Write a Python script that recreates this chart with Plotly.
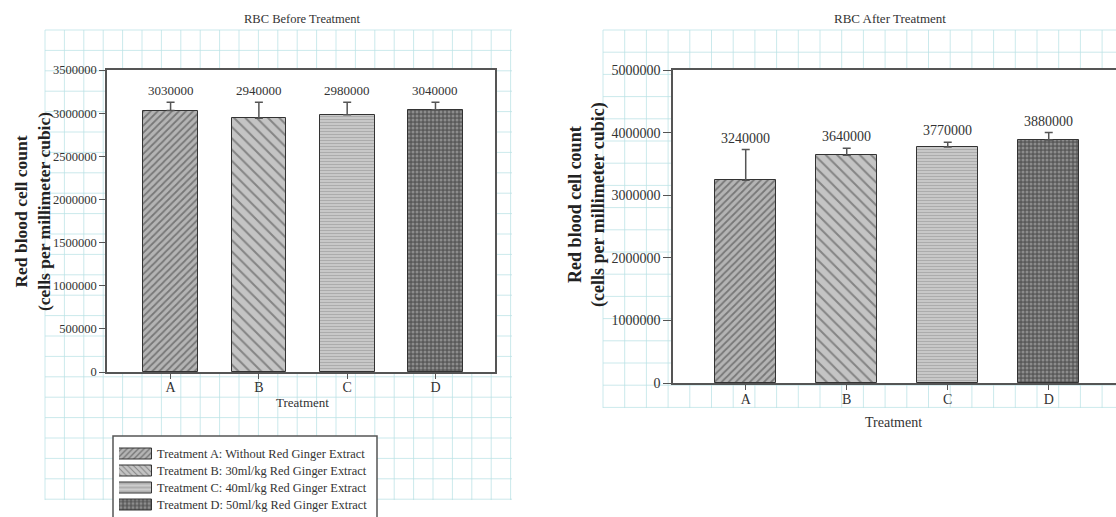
import plotly.graph_objects as go

# ---- data ----
categories = ["A", "B", "C", "D"]
legend_labels = [
    "Treatment A: Without Red Ginger Extract",
    "Treatment B: 30ml/kg Red Ginger Extract",
    "Treatment C: 40ml/kg Red Ginger Extract",
    "Treatment D: 50ml/kg Red Ginger Extract",
]
before_vals = [3030000, 2940000, 2980000, 3040000]
before_err = [95000, 185000, 145000, 85000]
after_vals = [3240000, 3640000, 3770000, 3880000]
after_err = [490000, 110000, 75000, 120000]
before_ticks = [0, 500000, 1000000, 1500000, 2000000, 2500000, 3000000, 3500000]
after_ticks = [0, 1000000, 2000000, 3000000, 4000000, 5000000]

# ---- styling ----
W, H = 1116, 517
SERIF = "Liberation Serif, Times New Roman, serif"
TXT = "#333333"
LINE = "#555555"
patterns = [
    dict(shape="/", fgcolor="#3a3a3a", bgcolor="#b4b4b4", size=5, solidity=0.35),
    dict(shape="\\", fgcolor="#444444", bgcolor="#c4c4c4", size=8, solidity=0.25),
    dict(shape="-", fgcolor="#8c8c8c", bgcolor="#cdcdcd", size=3, solidity=0.45),
    dict(shape=".", fgcolor="#bdbdbd", bgcolor="#5a5a5a", size=4, solidity=0.45),
]


def px_x(p):
    return p / W


def px_y(p):
    return 1 - p / H


fig = go.Figure()

panels = [
    ("x", "y", before_vals, before_err, 0.62),
    ("x2", "y2", after_vals, after_err, 0.6),
]
for xa, ya, vals, errs, bw in panels:
    for i, cat in enumerate(categories):
        fig.add_trace(go.Bar(
            x=[cat], y=[vals[i]], xaxis=xa, yaxis=ya,
            name=legend_labels[i], showlegend=False, width=bw,
            marker=dict(color=patterns[i]["bgcolor"], pattern=patterns[i],
                        line=dict(color="#333333", width=1)),
            error_y=dict(type="data", array=[errs[i]], arrayminus=[0],
                         symmetric=False, color=LINE, thickness=1.5, width=4),
            hoverinfo="skip",
        ))

# key: one patterned swatch per treatment, labelled by its axis tick text
for i, lab in enumerate(legend_labels):
    fig.add_trace(go.Bar(
        x=[1], y=[lab], orientation="h", xaxis="x3", yaxis="y3", width=0.6,
        showlegend=False, hoverinfo="skip",
        marker=dict(color=patterns[i]["bgcolor"], pattern=dict(patterns[i], size=4),
                    line=dict(color="#333333", width=1)),
    ))

# value labels above the error caps
annotations = []
for xa, ya, vals, errs, fsize in [("x", "y", before_vals, before_err, 13),
                                  ("x2", "y2", after_vals, after_err, 14)]:
    for cat, v, e in zip(categories, vals, errs):
        annotations.append(dict(
            x=cat, y=v + e, xref=xa, yref=ya, text=str(v), showarrow=False,
            xanchor="center", yanchor="bottom", yshift=2,
            font=dict(family=SERIF, size=fsize, color=TXT)))


def label(xp, yp, text, size, angle=0, color=TXT):
    return dict(x=px_x(xp), y=px_y(yp), xref="paper", yref="paper", text=text,
                showarrow=False, xanchor="center", yanchor="middle", textangle=angle,
                font=dict(family=SERIF, size=size, color=color))


# panel titles and axis titles
annotations += [
    label(302, 19, "RBC Before Treatment", 12.5),
    label(890, 18, "RBC After Treatment", 13),
    label(302, 402, "Treatment", 13),
    label(893, 422, "Treatment", 14),
    label(32, 212, "<b>Red blood cell count<br>(cells per millimeter cubic)</b>", 17.5,
          angle=-90, color="#222222"),
    label(587, 205, "<b>Red blood cell count<br>(cells per millimeter cubic)</b>", 18,
          angle=-90, color="#222222"),
]

# graph-paper backdrop behind each panel, then white plot areas and key box on top
shapes = []
GRID = "rgba(185,226,230,0.75)"


def paper_grid(x0, x1, y0, y1, dx, dy):
    out = []
    x = x0
    while x <= x1 + 0.5:
        out.append(dict(type="line", xref="paper", yref="paper", layer="below",
                        x0=px_x(x), x1=px_x(x), y0=px_y(y0), y1=px_y(y1),
                        line=dict(color=GRID, width=1)))
        x += dx
    y = y0
    while y <= y1 + 0.5:
        out.append(dict(type="line", xref="paper", yref="paper", layer="below",
                        x0=px_x(x0), x1=px_x(x1), y0=px_y(y), y1=px_y(y),
                        line=dict(color=GRID, width=1)))
        y += dy
    return out


shapes += paper_grid(45, 512, 30, 500, 19.4, 20.4)
shapes += paper_grid(603, 1116, 30, 408, 21.7, 22.2)

left_dom_x = [px_x(107), px_x(495)]
left_dom_y = [px_y(372), px_y(70)]
right_dom_x = [px_x(673), 1.0]
right_dom_y = [px_y(383), px_y(70)]
for dx_, dy_ in [(left_dom_x, left_dom_y), (right_dom_x, right_dom_y)]:
    shapes.append(dict(type="rect", xref="paper", yref="paper", layer="below",
                       x0=dx_[0], x1=dx_[1], y0=dy_[0], y1=dy_[1],
                       fillcolor="white", line=dict(width=0)))
# key box (runs past the bottom edge)
shapes.append(dict(type="rect", xref="paper", yref="paper", layer="below",
                   x0=px_x(113), x1=px_x(377), y0=px_y(530), y1=px_y(436),
                   fillcolor="white", line=dict(color=LINE, width=1.5)))

axis_common = dict(showgrid=False, zeroline=False, showline=True, linecolor=LINE,
                   linewidth=1.5, ticks="outside", tickcolor=LINE, tickwidth=1,
                   color=TXT, automargin=False)

fig.update_layout(
    width=W, height=H, margin=dict(l=0, r=0, t=0, b=0, pad=0, autoexpand=False),
    paper_bgcolor="white", plot_bgcolor="white",
    barmode="overlay", bargap=0, showlegend=False,
    font=dict(family=SERIF, color=TXT),
    xaxis=dict(domain=left_dom_x, anchor="y", range=[-0.72, 3.674], mirror=True,
               ticklen=5, ticklabelstandoff=-4, tickfont=dict(family=SERIF, size=14),
               categoryorder="array", categoryarray=categories, **axis_common),
    yaxis=dict(domain=left_dom_y, anchor="x", range=[0, 3500000], mirror=True,
               tickvals=before_ticks, ticktext=[str(t) for t in before_ticks],
               ticklen=6, tickfont=dict(family=SERIF, size=12.5), **axis_common),
    xaxis2=dict(domain=right_dom_x, anchor="y2", range=[-0.72, 3.666], mirror=True,
                ticklen=5, ticklabelstandoff=-3, tickfont=dict(family=SERIF, size=14),
                categoryorder="array", categoryarray=categories, **axis_common),
    yaxis2=dict(domain=right_dom_y, anchor="x2", range=[0, 5000000], mirror=False,
                tickvals=after_ticks, ticktext=[str(t) for t in after_ticks],
                ticklen=8, tickfont=dict(family=SERIF, size=14), **axis_common),
    xaxis3=dict(domain=[px_x(119), px_x(152)], anchor="y3", range=[0, 1],
                visible=False, fixedrange=True, automargin=False),
    yaxis3=dict(domain=[px_y(513.5), px_y(445.5)], anchor="x3", side="right",
                autorange="reversed", categoryorder="array",
                categoryarray=legend_labels, showline=False, showgrid=False,
                zeroline=False, ticks="", ticklabelstandoff=4, automargin=False,
                tickfont=dict(family=SERIF, size=12.4, color=TXT), fixedrange=True),
    annotations=annotations,
    shapes=shapes,
)

fig.write_html("out.html")
